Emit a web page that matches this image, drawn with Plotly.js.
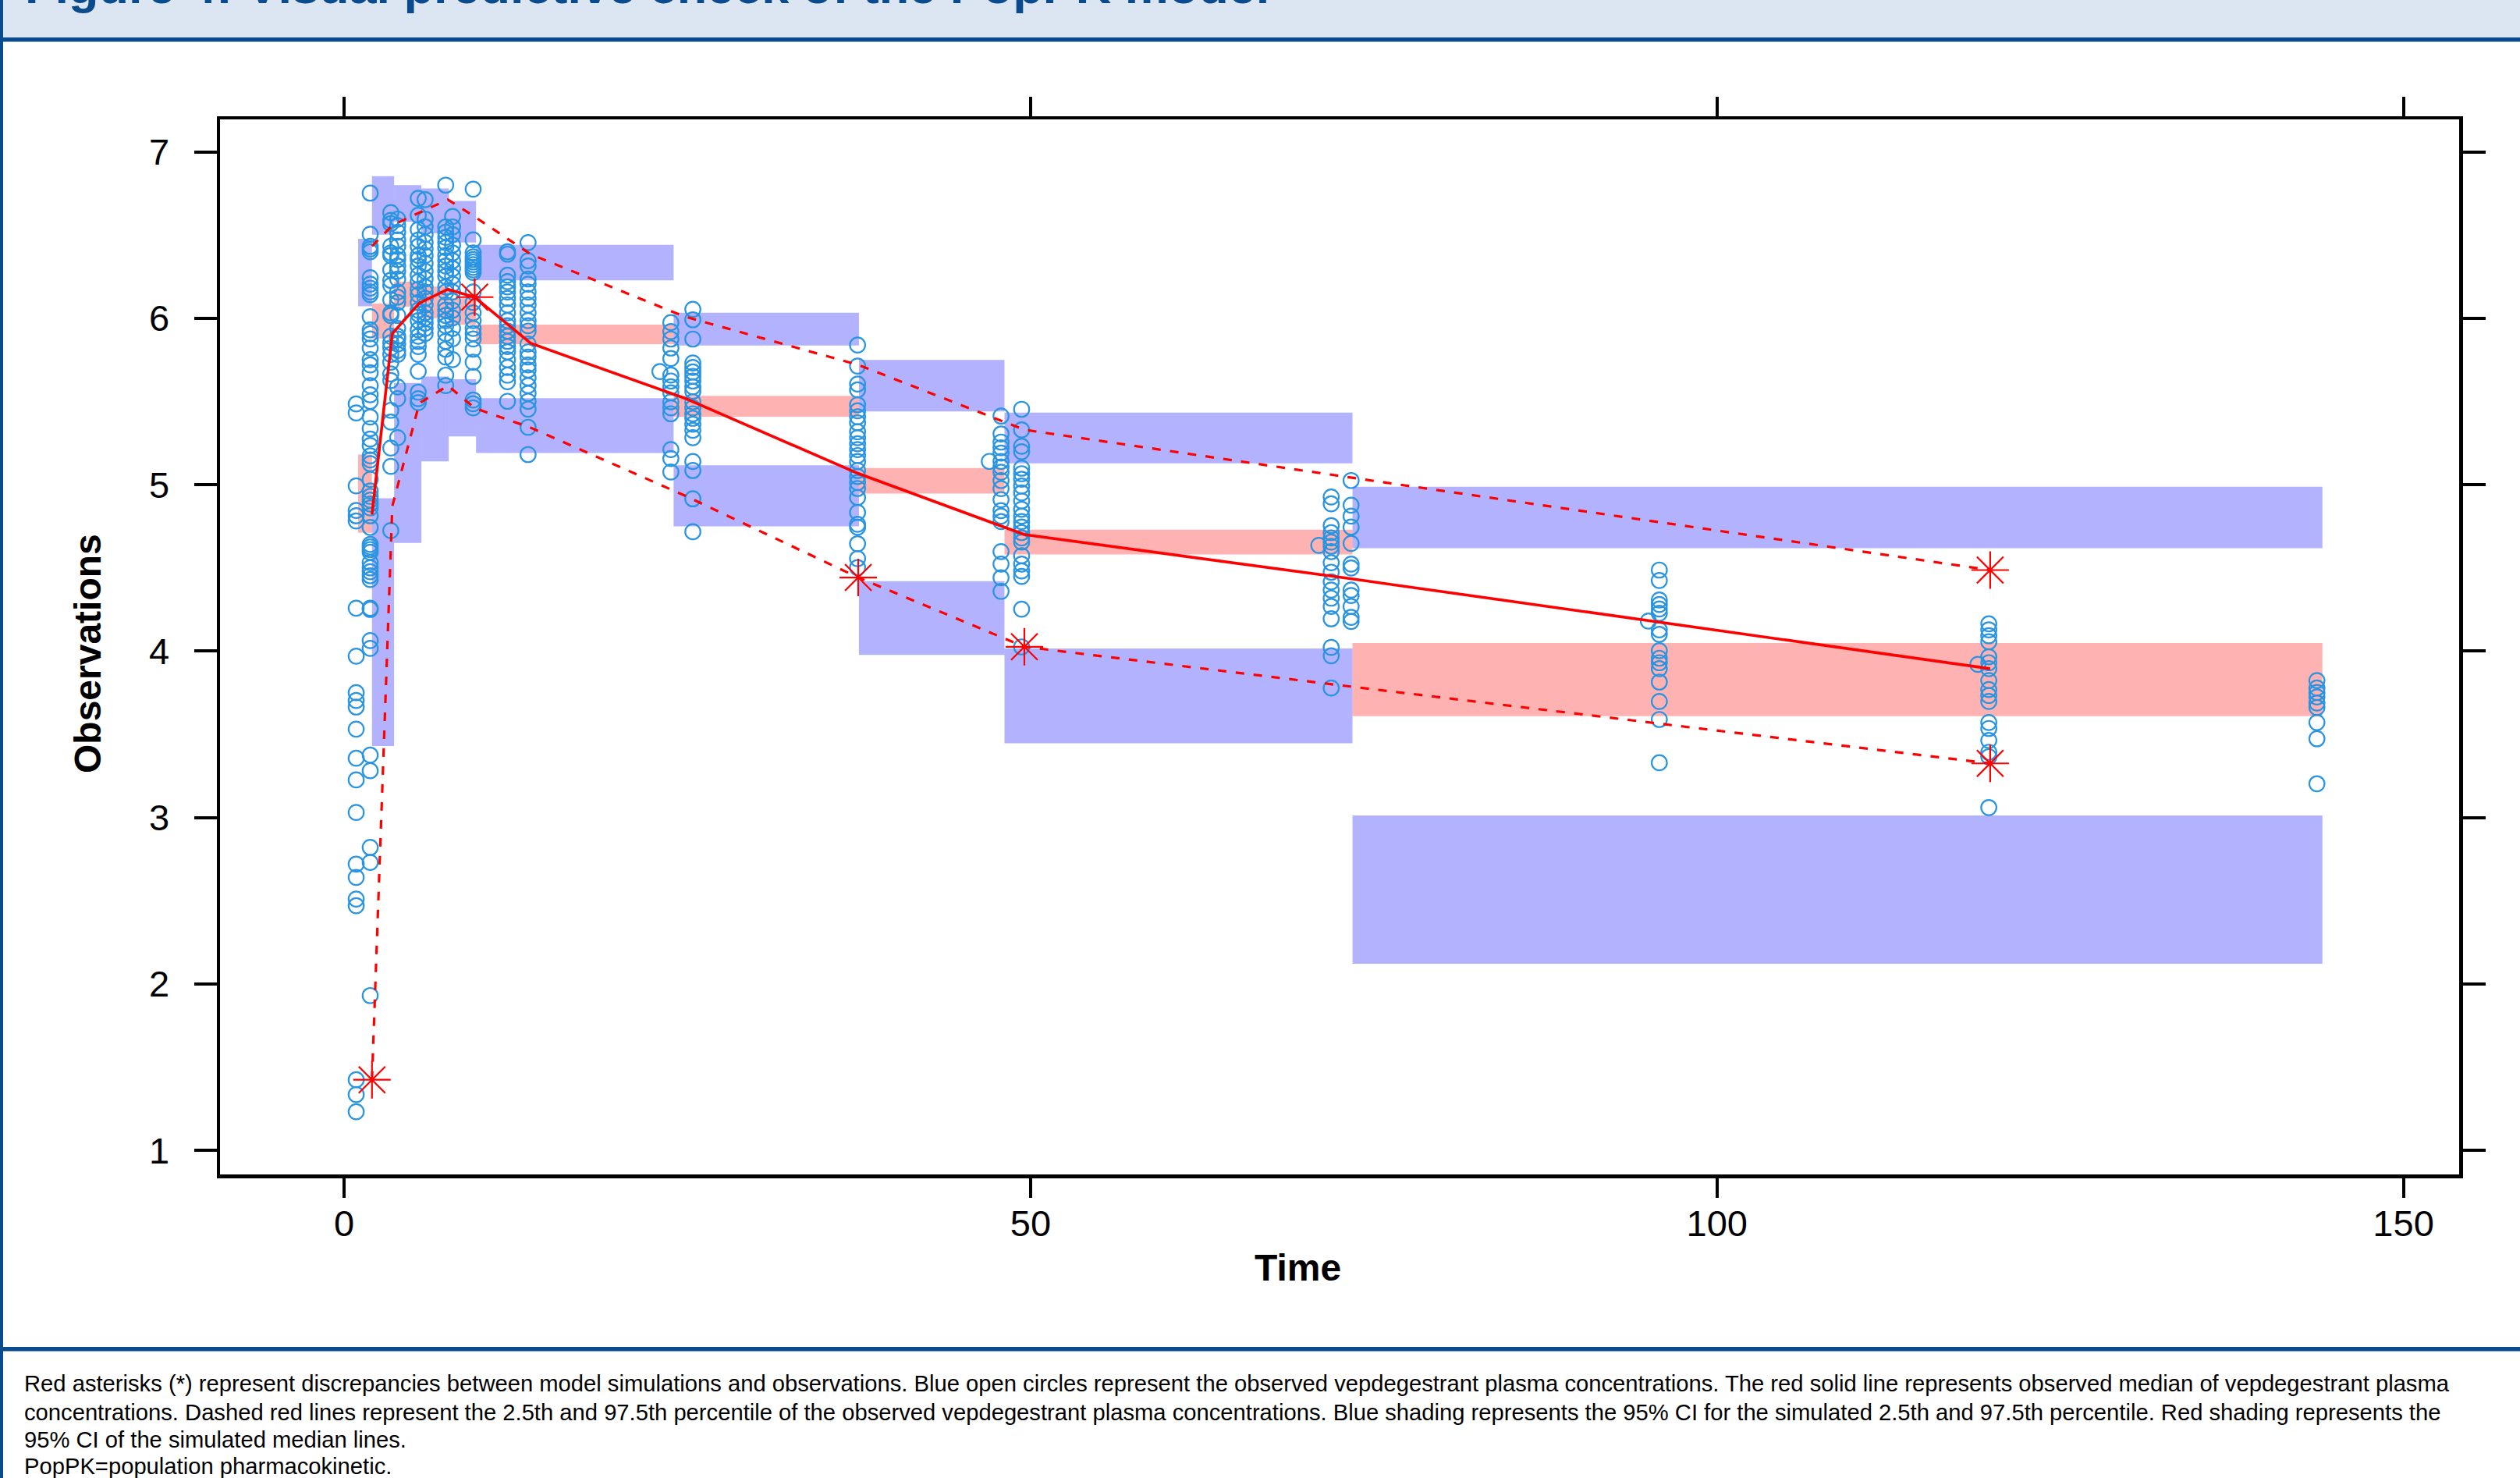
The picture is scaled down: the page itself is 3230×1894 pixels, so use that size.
<!DOCTYPE html>
<html>
<head>
<meta charset="utf-8">
<script src="https://cdn.plot.ly/plotly-3.0.1.min.js"></script>
<style>
  html, body { margin: 0; padding: 0; background: #ffffff; }
  #chart { width: 3230px; height: 1894px; }
</style>
</head>
<body>
<div id="chart"></div>
<script>
// ---------------- DATA ----------------
// Observed concentrations grouped by sampling-time column
const colTimes = [0.88, 1.9, 3.4, 3.9, 5.4, 5.9, 7.4, 7.9, 9.4, 11.9, 13.4, 23.0, 23.8, 25.4, 37.4, 47.0, 47.85, 49.35, 71.0, 71.9, 73.35, 95.0, 95.8, 119.0, 119.8, 143.7];
const colValues = [
  [5.485, 5.431, 4.993, 4.845, 4.813, 4.782, 4.258, 3.969, 3.75, 3.703, 3.664, 3.531, 3.356, 3.226, 3.03, 2.72, 2.64, 2.51, 2.47, 1.424, 1.335, 1.232],
  [6.752, 6.505, 6.432, 6.416, 6.4, 6.244, 6.205, 6.181, 6.158, 6.142, 6.009, 5.931, 5.907, 5.876, 5.821, 5.751, 5.72, 5.673, 5.595, 5.54, 5.501, 5.407, 5.337, 5.274, 5.235, 5.173, 5.149, 5.126, 5.032, 4.962, 4.93, 4.907, 4.884, 4.86, 4.813, 4.743, 4.641, 4.626, 4.61, 4.594, 4.532, 4.50, 4.477, 4.453, 4.43, 4.258, 4.25, 4.063, 4.016, 3.375, 3.281, 2.82, 2.73, 1.93],
  [6.635, 6.588, 6.569, 6.432, 6.393, 6.377, 6.291, 6.228, 6.197, 6.111, 6.033, 6.017, 5.892, 5.853, 5.822, 5.783, 5.736, 5.666, 5.626, 5.447, 5.376, 5.22, 5.11, 4.724],
  [6.596, 6.557, 6.517, 6.471, 6.432, 6.377, 6.353, 6.314, 6.283, 6.236, 6.158, 6.127, 6.095, 6.017, 5.939, 5.892, 5.876, 5.845, 5.806, 5.783, 5.587, 5.517, 5.282],
  [6.721, 6.619, 6.533, 6.47, 6.432, 6.377, 6.353, 6.314, 6.259, 6.22, 6.173, 6.142, 6.095, 6.048, 6.025, 5.986, 5.931, 5.892, 5.861, 5.83, 5.783, 5.681, 5.556, 5.517, 5.493],
  [6.713, 6.596, 6.55, 6.503, 6.456, 6.416, 6.377, 6.33, 6.283, 6.236, 6.189, 6.158, 6.119, 6.08, 6.033, 6.002, 5.971, 5.939, 5.908],
  [6.8, 6.549, 6.517, 6.486, 6.455, 6.424, 6.377, 6.346, 6.314, 6.283, 6.252, 6.189, 6.158, 6.08, 6.049, 6.017, 5.986, 5.955, 5.908, 5.861, 5.814, 5.767, 5.658, 5.595],
  [6.612, 6.549, 6.503, 6.44, 6.393, 6.346, 6.299, 6.252, 6.205, 6.158, 6.103, 6.048, 6.002, 5.939, 5.877, 5.751],
  [6.776, 6.471, 6.393, 6.369, 6.353, 6.338, 6.322, 6.306, 6.291, 6.275, 6.158, 6.095, 6.033, 5.986, 5.939, 5.908, 5.876, 5.814, 5.736, 5.65, 5.509, 5.486, 5.462],
  [6.4, 6.385, 6.259, 6.22, 6.189, 6.158, 6.119, 6.08, 6.033, 5.986, 5.955, 5.923, 5.892, 5.861, 5.83, 5.798, 5.751, 5.704, 5.658, 5.619, 5.501],
  [6.455, 6.346, 6.314, 6.236, 6.205, 6.158, 6.119, 6.08, 6.033, 5.986, 5.955, 5.923, 5.845, 5.798, 5.767, 5.72, 5.689, 5.642, 5.595, 5.548, 5.501, 5.454, 5.345, 5.181],
  [5.68],
  [5.974, 5.92, 5.875, 5.821, 5.758, 5.659, 5.623, 5.588, 5.552, 5.498, 5.462, 5.426, 5.211, 5.157, 5.076],
  [6.054, 5.991, 5.875, 5.731, 5.704, 5.677, 5.651, 5.623, 5.588, 5.561, 5.498, 5.462, 5.426, 5.399, 5.363, 5.327, 5.282, 5.139, 5.085, 4.915, 4.717],
  [5.839, 5.713, 5.605, 5.57, 5.48, 5.444, 5.408, 5.372, 5.318, 5.282, 5.246, 5.211, 5.175, 5.139, 5.085, 5.049, 5.013, 4.977, 4.923, 4.833, 4.762, 4.744, 4.645, 4.556, 4.502],
  [5.14],
  [5.412, 5.305, 5.256, 5.222, 5.19, 5.14, 5.107, 5.075, 5.025, 4.976, 4.91, 4.844, 4.811, 4.778, 4.598, 4.523, 4.441, 4.359],
  [5.453, 5.329, 5.231, 5.198, 5.099, 5.066, 5.033, 4.992, 4.951, 4.902, 4.852, 4.811, 4.778, 4.745, 4.712, 4.68, 4.655, 4.573, 4.523, 4.482, 4.449, 4.252, 4.025],
  [4.635],
  [4.926, 4.885, 4.754, 4.712, 4.68, 4.655, 4.63, 4.598, 4.531, 4.474, 4.416, 4.367, 4.318, 4.268, 4.194, 4.022, 3.972, 3.778],
  [5.025, 4.877, 4.811, 4.745, 4.647, 4.523, 4.499, 4.367, 4.334, 4.268, 4.203, 4.178],
  [4.18],
  [4.487, 4.424, 4.307, 4.28, 4.253, 4.227, 4.128, 4.101, 4.002, 3.957, 3.93, 3.894, 3.814, 3.697, 3.589, 3.329],
  [3.92],
  [4.164, 4.128, 4.092, 4.056, 3.966, 3.93, 3.894, 3.823, 3.769, 3.733, 3.697, 3.571, 3.535, 3.463, 3.392, 3.365, 3.06],
  [3.823, 3.778, 3.751, 3.724, 3.688, 3.661, 3.571, 3.473, 3.203]
];

// Time bins of the simulated confidence bands
const binLo = [1.02, 2.03, 3.64, 5.63, 7.62, 9.61, 24.0, 37.5, 48.1, 73.45];
const binHi = [2.03, 3.64, 5.63, 7.62, 9.61, 24.0, 37.5, 48.1, 73.45, 144.1];
// 95% CI of simulated 2.5th percentile (blue)
const lowCiLo = [null, 3.43, 4.65, 5.14, 5.29, 5.19, 4.75, 3.977, 3.446, 2.121];
const lowCiHi = [null, 4.918, 5.611, 5.65, 5.634, 5.52, 5.117, 4.42, 4.016, 3.012];
// 95% CI of simulated median (red)
const medCiLo = [4.711, 5.878, 6.07, 6.0, 5.962, 5.845, 5.408, 4.947, 4.581, 3.609];
const medCiHi = [5.181, 6.088, 6.22, 6.19, 6.12, 5.962, 5.534, 5.10, 4.729, 4.049];
// 95% CI of simulated 97.5th percentile (blue)
const upCiLo = [6.072, 6.502, 6.58, 6.51, 6.455, 6.228, 5.836, 5.44, 5.128, 4.618];
const upCiHi = [6.478, 6.854, 6.80, 6.78, 6.705, 6.441, 6.033, 5.75, 5.433, 4.988];

// Observed percentiles per bin
const pctTime = [2.03, 3.51, 5.48, 7.56, 9.51, 13.6, 24.8, 37.45, 49.55, 73.3, 119.9];
const obsMedian = [4.821, 5.908, 6.091, 6.174, 6.127, 5.849, 5.52, 5.067, 4.70, 4.435, 3.894];
const obsP975 = [6.433, 6.558, 6.635, 6.713, 6.61, 6.384, 6.01, 5.72, 5.33, 5.043, 4.487];
const obsP025 = [1.424, 4.87, 5.49, 5.595, 5.46, 5.342, 4.935, 4.442, 4.026, 3.787, 3.325];

// Discrepancy flags (red asterisks)
const flagTime = [2.03, 9.51, 37.45, 49.55, 119.9, 119.9];
const flagValue = [1.424, 6.127, 4.442, 4.026, 4.487, 3.325];

// Text
const xTickVals = [0, 50, 100, 150];
const yTickVals = [1, 2, 3, 4, 5, 6, 7];
const titleText = "Figure 4: Visual predictive check of the PopPK model";
const xLabel = "Time";
const yLabel = "Observations";
const footLines = [
  "Red asterisks (*) represent discrepancies between model simulations and observations. Blue open circles represent the observed vepdegestrant plasma concentrations. The red solid line represents observed median of vepdegestrant plasma",
  "concentrations. Dashed red lines represent the 2.5th and 97.5th percentile of the observed vepdegestrant plasma concentrations. Blue shading represents the 95% CI for the simulated 2.5th and 97.5th percentile. Red shading represents the",
  "95% CI of the simulated median lines.",
  "PopPK=population pharmacokinetic."
];

// ---------------- LAYOUT HELPERS ----------------
const W = 3230, H = 1894, ML = 282, MR = 78, MT = 153, MB = 389;
const PW = W - ML - MR, PH = H - MT - MB;
const pxX = x => (x - ML) / PW;
const pxY = y => (H - MB - y) / PH;
const FONT = "Liberation Sans, Arial, Helvetica, sans-serif";
const DARKBLUE = "#0a4b8e";

// ---------------- TRACES ----------------
const obsX = [], obsY = [];
colTimes.forEach((t, i) => colValues[i].forEach(v => { obsX.push(t); obsY.push(v); }));

const traces = [
  {
    type: "scatter", mode: "markers", x: obsX, y: obsY, hoverinfo: "x+y",
    marker: { symbol: "circle-open", size: 19.5, color: "#2894e2", line: { width: 2.2, color: "#2894e2" } },
    showlegend: false
  },
  {
    type: "scatter", mode: "lines", x: pctTime, y: obsP025,
    line: { color: "#ff0000", width: 3.2, dash: "11px,12px" }, showlegend: false
  },
  {
    type: "scatter", mode: "lines", x: pctTime, y: obsP975,
    line: { color: "#ff0000", width: 3.2, dash: "11px,12px" }, showlegend: false
  },
  {
    type: "scatter", mode: "lines", x: pctTime, y: obsMedian,
    line: { color: "#ff0000", width: 3.6 }, showlegend: false
  },
  {
    type: "scatter", mode: "markers", x: flagTime, y: flagValue,
    marker: { symbol: "asterisk-open", size: 40, color: "#ff0000", line: { width: 2.2, color: "#ff0000" } },
    showlegend: false
  }
];

// ---------------- SHAPES ----------------
const shapes = [];
function band(x0, x1, y0, y1, col) {
  if (y0 === null || y1 === null) return;
  shapes.push({ type: "rect", xref: "x", yref: "y", x0: x0, x1: x1, y0: y0, y1: y1,
    fillcolor: col, line: { width: 0 }, layer: "below" });
}
const BLUE = "rgba(0,0,255,0.3)", RED = "rgba(255,0,0,0.3)";
for (let i = 0; i < binLo.length; i++) {
  band(binLo[i], binHi[i], lowCiLo[i], lowCiHi[i], BLUE);
  band(binLo[i], binHi[i], upCiLo[i], upCiHi[i], BLUE);
  band(binLo[i], binHi[i], medCiLo[i], medCiHi[i], RED);
}
function paperRect(x0, y0, x1, y1, col) {
  shapes.push({ type: "rect", xref: "paper", yref: "paper",
    x0: pxX(x0), x1: pxX(x1), y0: pxY(y1), y1: pxY(y0),
    fillcolor: col, line: { width: 0 }, layer: "above" });
}
paperRect(0, 0, W, 48, "#dce6f2");      // header band
paperRect(0, 48, W, 53.5, DARKBLUE);    // header rule
paperRect(0, 1726, W, 1731.5, DARKBLUE); // footnote rule
paperRect(0, 0, 4, H, DARKBLUE);        // left border

// ---------------- ANNOTATIONS ----------------
const annotations = [
  { text: "<b>" + titleText + "</b>", xref: "paper", yref: "paper", x: pxX(30), y: pxY(19),
    xanchor: "left", yanchor: "bottom", showarrow: false,
    font: { family: FONT, size: 63, color: DARKBLUE } },
  { text: "<b>" + xLabel + "</b>", xref: "paper", yref: "paper", x: pxX(1663), y: pxY(1624),
    xanchor: "center", yanchor: "middle", showarrow: false,
    font: { family: FONT, size: 48, color: "#000000" } },
  { text: "<b>" + yLabel + "</b>", xref: "paper", yref: "paper", x: pxX(112), y: pxY(838),
    xanchor: "center", yanchor: "middle", showarrow: false, textangle: -90,
    font: { family: FONT, size: 48, color: "#000000" } }
];
const footY = [1773, 1810, 1845, 1879];
footLines.forEach((s, i) => annotations.push({
  text: s, xref: "paper", yref: "paper", x: pxX(29), y: pxY(footY[i]),
  xanchor: "left", yanchor: "middle", showarrow: false, align: "left",
  font: { family: FONT, size: 29.2, color: "#000000" }
}));

// ---------------- LAYOUT ----------------
const layout = {
  width: W, height: H,
  margin: { l: ML, r: MR, t: MT, b: MB, pad: 0 },
  paper_bgcolor: "#ffffff", plot_bgcolor: "#ffffff",
  showlegend: false,
  font: { family: FONT, color: "#000000" },
  xaxis: {
    range: [-9.04, 154.06], tickmode: "array", tickvals: xTickVals, ticktext: xTickVals.map(String),
    ticks: "outside", ticklen: 25, tickwidth: 4, tickcolor: "#000000",
    showline: true, linewidth: 4.5, linecolor: "#000000", mirror: "ticks",
    showgrid: false, zeroline: false, ticklabelstandoff: -7,
    tickfont: { family: FONT, size: 47, color: "#000000" }
  },
  yaxis: {
    range: [0.855, 7.195], tickmode: "array", tickvals: yTickVals, ticktext: yTickVals.map(String),
    ticks: "outside", ticklen: 29, tickwidth: 4, tickcolor: "#000000",
    showline: true, linewidth: 4.5, linecolor: "#000000", mirror: "ticks",
    showgrid: false, zeroline: false, ticklabelstandoff: 22,
    tickfont: { family: FONT, size: 47, color: "#000000" }
  },
  shapes: shapes,
  annotations: annotations
};

Plotly.newPlot("chart", traces, layout, { staticPlot: true, displayModeBar: false });
</script>
</body>
</html>
